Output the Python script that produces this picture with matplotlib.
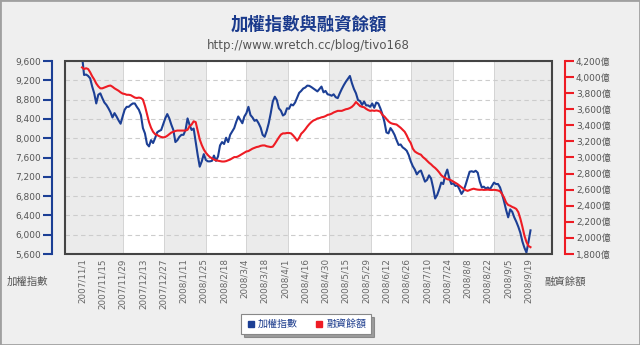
import matplotlib.pyplot as plt
from matplotlib.lines import Line2D
from matplotlib.patches import Rectangle

plt.rcParams['font.family'] = ['DejaVu Sans', 'Noto Sans CJK TC']

# tick labels, one every 10 trading days
dates = ['2007/11/1', '2007/11/15', '2007/11/29', '2007/12/13', '2007/12/27',
         '2008/1/11', '2008/1/25', '2008/2/18', '2008/3/4', '2008/3/18',
         '2008/4/1', '2008/4/16', '2008/4/30', '2008/5/15', '2008/5/29',
         '2008/6/12', '2008/6/26', '2008/7/10', '2008/7/24', '2008/8/8',
         '2008/8/22', '2008/9/5', '2008/9/19']

# TAIEX close, daily
taiex = [9710, 9310, 9320, 9290, 9240, 9070, 8930, 8720, 8900, 8930,
         8830, 8740, 8690, 8620, 8540, 8430, 8520, 8450, 8370, 8300,
         8450, 8590, 8650, 8650, 8690, 8720, 8720, 8650, 8590, 8480,
         8210, 8100, 7880, 7830, 7960, 7900, 8000, 8120, 8150, 8170,
         8290, 8410, 8500, 8410, 8280, 8170, 7920, 7960, 8030, 8070,
         8070, 8170, 8410, 8275, 8170, 8200, 7930, 7650, 7410, 7520,
         7670, 7550, 7520, 7520, 7530, 7640, 7530, 7620, 7850, 7920,
         7880, 8010, 7920, 8070, 8140, 8210, 8340, 8450, 8380, 8310,
         8450, 8520, 8650, 8480, 8430, 8360, 8380, 8310, 8220, 8070,
         8030, 8150, 8310, 8520, 8760, 8860, 8790, 8620, 8570, 8470,
         8500, 8620, 8610, 8700, 8680, 8740, 8840, 8940, 8980, 9030,
         9050, 9090, 9085, 9060, 9030, 9000, 8970, 9020, 9070, 8950,
         8980, 8910, 8900, 8880, 8910, 8850, 8830, 8930, 9020, 9100,
         9170, 9230, 9290, 9140, 9020, 8930, 8790, 8770, 8690, 8760,
         8680, 8680, 8650, 8720, 8630, 8740, 8720, 8620, 8500, 8340,
         8120, 8100, 8210, 8150, 8070, 7960, 7860, 7870, 7810, 7780,
         7740, 7650, 7520, 7420, 7350, 7250, 7305, 7330, 7215, 7100,
         7135, 7230, 7165, 6980, 6750, 6820, 6940, 7080, 7050, 7240,
         7350, 7165, 7050, 7065, 7010, 7020, 6940, 6845, 6910, 7030,
         7165, 7305, 7315, 7300, 7325, 7285, 7100, 6980, 6995, 6955,
         6980, 6940, 7010, 7080, 7050, 7050, 6980, 6845, 6685, 6510,
         6360, 6525, 6475, 6360, 6270, 6165, 6040, 5860, 5730, 5630,
         5850, 6090]

# margin balance (億), daily
margin = [4120, 4100, 4110, 4100, 4060, 4010, 3970, 3920, 3885, 3860,
          3860, 3870, 3880, 3890, 3895, 3880, 3860, 3845, 3830, 3810,
          3795, 3790, 3780, 3780, 3775, 3760, 3745, 3740, 3745, 3740,
          3720, 3640, 3540, 3440, 3370, 3320, 3290, 3280, 3265, 3255,
          3250, 3255, 3270, 3290, 3310, 3320, 3330, 3335, 3335, 3335,
          3335, 3335, 3345, 3390, 3410, 3450, 3440, 3330, 3225, 3155,
          3100, 3060, 3030, 3005, 2990, 2975, 2965, 2960, 2955, 2950,
          2950, 2955, 2965, 2975, 2990, 3005, 3005, 3015, 3030, 3045,
          3060, 3075, 3080, 3095, 3110, 3120, 3130, 3135, 3145, 3150,
          3150, 3140, 3135, 3130, 3135, 3170, 3210, 3250, 3285, 3300,
          3300, 3305, 3305, 3300, 3275, 3245, 3210, 3245, 3295, 3320,
          3350, 3385, 3415, 3440, 3460, 3470, 3485, 3490, 3500, 3505,
          3515, 3530, 3535, 3545, 3560, 3570, 3580, 3580, 3580, 3590,
          3600, 3605, 3615, 3630, 3655, 3690, 3665, 3640, 3630, 3625,
          3605, 3590, 3580, 3585, 3580, 3585, 3580, 3570, 3530, 3510,
          3480, 3450, 3430, 3420, 3415, 3410, 3390, 3370, 3345, 3320,
          3275, 3220, 3180, 3110, 3075, 3058, 3045, 3035, 3005, 2985,
          2960, 2935, 2915, 2890, 2870, 2845, 2815, 2780, 2760, 2745,
          2730, 2725, 2715, 2700, 2685, 2670, 2650, 2630, 2610, 2595,
          2585, 2595, 2605, 2612, 2605, 2600, 2598, 2600, 2597, 2598,
          2600, 2597, 2596, 2598, 2595, 2590, 2580, 2545, 2500, 2440,
          2410, 2400, 2385, 2375, 2360, 2320, 2240, 2140, 2030, 1950,
          1900, 1885]

# edges of the alternating background bands (in trading-day units)
band_edges = [20.2, 40.4, 61.1, 80.8, 101.5, 121.8, 142.5, 162.2, 182.8, 202.8]

BLUE = '#1c3f95'
RED = '#ee1c24'
GREY_TXT = '#555555'

fig = plt.figure(figsize=(6.4, 3.45), dpi=100, facecolor='#efefef')
ax = fig.add_axes([65 / 640, 1 - 254 / 345, 487 / 640, 193 / 345])
ax2 = ax.twinx()

x = list(range(len(taiex)))
xmin, xmax = -8.4, 231.6

# alternating grey / white bands
ax.set_facecolor('white')
bounds = [xmin] + band_edges + [xmax]
for k in range(len(bounds) - 1):
    if k % 2 == 0:
        ax.axvspan(bounds[k], bounds[k + 1], color='#ebebeb', lw=0, zorder=0)
for e in band_edges:
    ax.axvline(e, color='#d4d4d4', lw=0.7, zorder=0.5)

ax.plot(x, taiex, color=BLUE, lw=1.5, zorder=3)
ax2.plot(x, margin, color=RED, lw=1.5, zorder=3)

ax.set_xlim(xmin, xmax)
ax.set_ylim(5600, 9600)
ax2.set_ylim(1800, 4200)

ax.set_axisbelow(True)
ax.yaxis.grid(True, linestyle=(0, (4, 3)), color='#cccccc', lw=0.8)

# left axis
lticks = list(range(5600, 9601, 400))
ax.set_yticks(lticks)
ax.set_yticklabels([f'{v:,}' for v in lticks])
ax.tick_params(axis='y', direction='out', length=6.5, width=1.5, color=BLUE,
               labelsize=6.5, labelcolor=GREY_TXT, pad=1)

# right axis
rticks = list(range(1800, 4201, 200))
ax2.set_yticks(rticks)
ax2.set_yticklabels([f'{v:,}億' for v in rticks])
ax2.tick_params(axis='y', direction='out', length=6.5, width=1.5, color=RED,
                labelsize=6.5, labelcolor=GREY_TXT, pad=1)

# bottom axis
ax.set_xticks(range(0, 221, 10))
ax.set_xticklabels(dates, rotation=90, fontsize=6.3, color='#666666')
ax.tick_params(axis='x', length=0, pad=3)

for s in ['top', 'right', 'bottom']:
    ax.spines[s].set_visible(False)
ax.spines['left'].set_position(('outward', 9.7))
ax.spines['left'].set_color(BLUE)
ax.spines['left'].set_linewidth(1.5)
for s in ['top', 'left', 'bottom']:
    ax2.spines[s].set_visible(False)
ax2.spines['right'].set_position(('outward', 9.7))
ax2.spines['right'].set_color(RED)
ax2.spines['right'].set_linewidth(1.5)

# dark frame around the plot area
ax2.add_patch(Rectangle((0, 0), 1, 1, transform=ax2.transAxes, fill=False,
                        ec='#444444', lw=1.5, clip_on=False, zorder=10))

fig.text(308.5 / 640, 1 - 25 / 345, '加權指數與融資餘額', ha='center', va='center',
         fontsize=12.5, weight='bold', color='#1a3a8c')
fig.text(308.5 / 640, 1 - 45.5 / 345, 'http://www.wretch.cc/blog/tivo168',
         ha='center', va='center', fontsize=8.5, color=GREY_TXT)

fig.text(27 / 640, 1 - 282 / 345, '加權指數', ha='center', va='center',
         fontsize=7.5, color=GREY_TXT)
fig.text(565 / 640, 1 - 282 / 345, '融資餘額', ha='center', va='center',
         fontsize=7.5, color=GREY_TXT)

handles = [Line2D([], [], ls='none', marker='s', ms=5, color=BLUE),
           Line2D([], [], ls='none', marker='s', ms=5, color=RED)]
leg = fig.legend(handles, ['加權指數', '融資餘額'], loc='center',
                 bbox_to_anchor=(306 / 640, 1 - 324 / 345), ncol=2,
                 frameon=True, fancybox=False, shadow=True, fontsize=7.2,
                 labelcolor='#1a3a8c', handletextpad=0.3, columnspacing=1.6,
                 borderpad=0.5, handlelength=0.9)
leg.get_frame().set_edgecolor('#888888')
leg.get_frame().set_linewidth(0.8)

fig.patches.append(Rectangle((0, 0), 1, 1, transform=fig.transFigure,
                             fill=False, ec='#a0a0a0', lw=2))

fig.savefig('out.png', dpi=100, facecolor=fig.get_facecolor())
